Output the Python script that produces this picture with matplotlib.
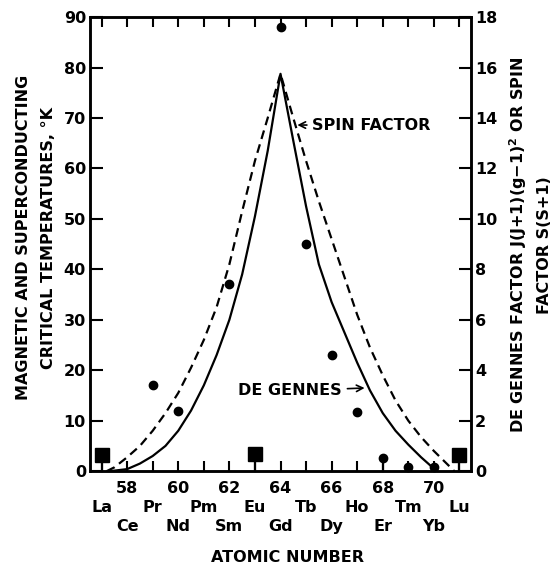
import numpy as np
import matplotlib.pyplot as plt

plt.rcParams['font.family'] = 'DejaVu Sans'
plt.rcParams['font.weight'] = 'bold'

# measured critical temperatures (K) vs atomic number
mag_z = [59, 60, 62, 64, 65, 66, 67, 68, 69, 70]
mag_t = [17, 12, 37, 88, 45, 23, 11.7, 2.7, 0.9, 0.8]
sc_z = [57, 63, 71]
sc_t = [3.2, 3.3, 3.1]

# de gennes factor curve (solid)
dg_z = [57.25, 57.5, 58.0, 58.5, 59.0, 59.5, 60.0, 60.5, 61.0, 61.5, 62.0, 62.5, 63.0, 63.5, 64.0,
        64.5, 65.0, 65.5, 66.0, 66.5, 67.0, 67.5, 68.0, 68.5, 69.0, 69.5, 70.0, 70.1]
dg_f = [0.0, 0.02, 0.08, 0.3, 0.6, 1.0, 1.6, 2.4, 3.4, 4.6, 6.0, 7.8, 10.1, 12.7, 15.75,
        13.1, 10.5, 8.2, 6.7, 5.5, 4.3, 3.2, 2.3, 1.6, 1.05, 0.55, 0.1, 0.0]
# spin factor curve (dashed)
sp_z = [57.2, 57.5, 58.0, 58.5, 59.0, 59.5, 60.0, 60.5, 61.0, 61.5, 62.0, 62.5, 63.0, 63.5, 64.0,
        64.5, 65.0, 65.5, 66.0, 66.5, 67.0, 67.5, 68.0, 68.5, 69.0, 69.5, 70.0, 70.5, 70.8]
sp_f = [0.0, 0.15, 0.55, 1.0, 1.6, 2.3, 3.1, 4.1, 5.2, 6.5, 8.2, 10.3, 12.3, 14.0, 15.75,
        14.0, 12.3, 10.7, 9.2, 7.7, 6.2, 4.9, 3.8, 2.8, 2.0, 1.35, 0.8, 0.3, 0.0]

row1 = ['La', 'Pr', 'Pm', 'Eu', 'Tb', 'Ho', 'Tm', 'Lu']
row1_z = [57, 59, 61, 63, 65, 67, 69, 71]
row2 = ['Ce', 'Nd', 'Sm', 'Gd', 'Dy', 'Er', 'Yb']
row2_z = [58, 60, 62, 64, 66, 68, 70]

fig = plt.figure(figsize=(5.56, 5.69), dpi=100)
ax = fig.add_axes([0.162, 0.172, 0.685, 0.798])
ax2 = ax.twinx()

ax.set_xlim(56.55, 71.45)
ax.set_ylim(0, 90)
ax2.set_ylim(0, 18)

# curves on right axis
ax2.plot(dg_z, dg_f, color='black', lw=1.6)
ax2.plot(sp_z, sp_f, color='black', lw=1.6, linestyle=(0, (4, 2.5)))

# stems for the low points
for z, t in zip(mag_z + sc_z, mag_t + sc_t):
    if t < 5:
        ax.plot([z, z], [0, t], color='black', lw=1.6, clip_on=False)
ax.plot(mag_z, mag_t, 'o', color='black', ms=6, clip_on=False, zorder=5)
ax.plot(sc_z, sc_t, 's', color='black', ms=10, clip_on=False, zorder=5)

# ticks
ax.set_xticks(range(58, 71, 2))
ax.set_xticks(range(57, 72), minor=True)
ax.set_yticks(range(0, 91, 10))
ax.set_yticklabels(['0', '10', '20', '30', '40', '50', '60', '70', '80', '90'])
ax2.set_yticks(range(0, 19, 2))
ax.tick_params(axis='both', which='both', direction='in', top=True, labelsize=11.5, width=1.5)
ax.tick_params(axis='x', which='major', length=7, pad=7)
ax.tick_params(axis='x', which='minor', length=7)
ax.tick_params(axis='y', length=9, pad=3)
ax2.tick_params(axis='y', direction='in', length=9, width=1.5, labelsize=11.5, pad=3)
for a in [ax, ax2]:
    for s in a.spines.values():
        s.set_linewidth(1.8)

# element names
for z, n in zip(row1_z, row1):
    ax.text(z, -0.079, n, transform=ax.get_xaxis_transform(), ha='center', va='center', fontsize=11.5)
for z, n in zip(row2_z, row2):
    ax.text(z, -0.123, n, transform=ax.get_xaxis_transform(), ha='center', va='center', fontsize=11.5)

fig.text(0.517, 0.021, 'ATOMIC NUMBER', ha='center', va='center', fontsize=11.5)
fig.text(0.043, 0.582, 'MAGNETIC AND SUPERCONDUCTING', rotation=90, ha='center', va='center', fontsize=11.5)
fig.text(0.087, 0.582, 'CRITICAL TEMPERATURES, °K', rotation=90, ha='center', va='center', fontsize=11.5)
fig.text(0.932, 0.57, 'DE GENNES FACTOR J(J+1)(g\u22121)$^{\\mathbf{2}}$ OR SPIN', rotation=90,
         ha='center', va='center', fontsize=11.5)
fig.text(0.98, 0.57, 'FACTOR S(S+1)', rotation=90, ha='center', va='center', fontsize=11.5)

# labels with arrows
ax.annotate('SPIN FACTOR', xy=(64.55, 68.6), xytext=(65.25, 68.6), va='center', fontsize=11.5,
            arrowprops=dict(arrowstyle='->', color='black', lw=1.2))
ax.annotate('DE GENNES', xy=(67.4, 16.5), xytext=(66.4, 15.9), ha='right', va='center', fontsize=11.5,
            arrowprops=dict(arrowstyle='->', color='black', lw=1.2))

plt.savefig('out.png', dpi=100)
